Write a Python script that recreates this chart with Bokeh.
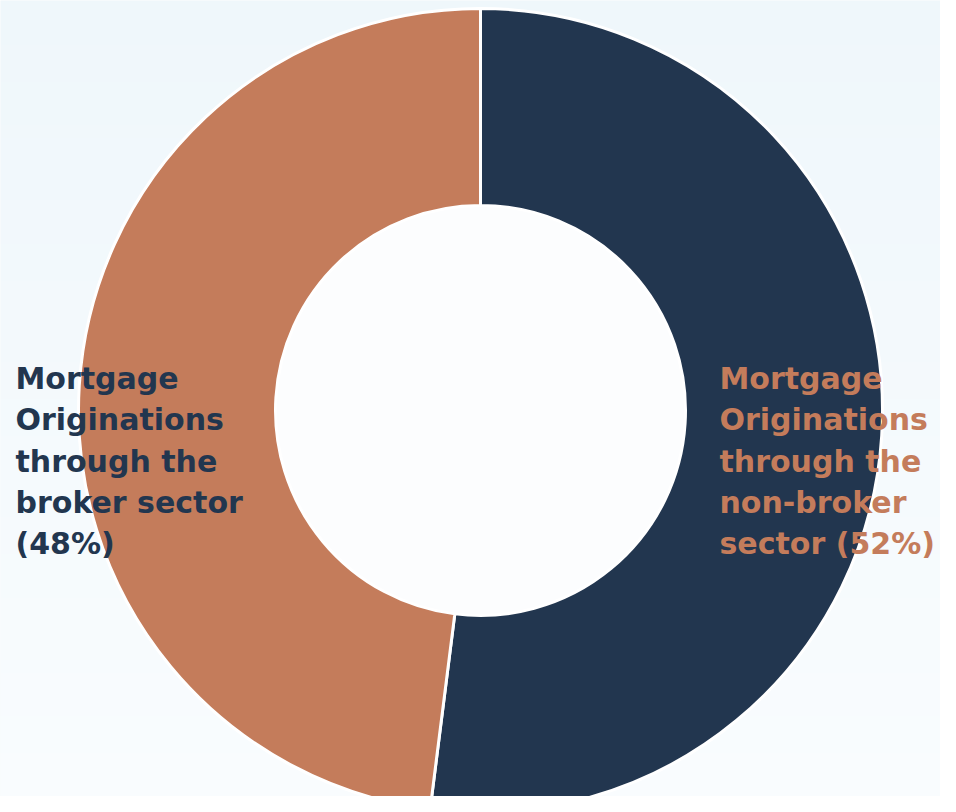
import numpy as np
from bokeh.plotting import figure
from bokeh.models import ColumnDataSource
from bokeh.embed import file_html
from bokeh.resources import INLINE
from bokeh.core.properties import value

# ---- data ----
categories = ["non-broker sector", "broker sector"]
shares = [52, 48]
colors = ["#22364f", "#c47c5b"]
label_lines = [
    ["Mortgage", "Originations", "through the", "non-broker", "sector (52%)"],
    ["Mortgage", "Originations", "through the", "broker sector", "(48%)"],
]
label_colors = ["#c47c5b", "#22364f"]

W, H = 940, 796
p = figure(width=W, height=H, x_range=(0, W), y_range=(0, H),
           output_backend="svg", toolbar_location=None, min_border=0)
p.axis.visible = False
p.grid.visible = False
p.outline_line_color = None
p.background_fill_color = "#f4f9fc"
p.border_fill_color = "#f4f9fc"

# soft vertical background gradient (style only)
n = 128
top = np.array([239, 247, 251], dtype=float)
bot = np.array([249, 252, 254], dtype=float)
img = np.zeros((n, 1), dtype=np.uint32)
view = img.view(dtype=np.uint8).reshape((n, 1, 4))
for i in range(n):
    t = i / (n - 1)  # i=0 is bottom row
    c = bot * (1 - t) + top * t
    view[i, 0, 0:3] = np.round(c).astype(np.uint8)
    view[i, 0, 3] = 255
p.image_rgba(image=[img], x=0, y=0, dw=W, dh=H)

# ---- donut ----
cx, cy = 480, 386
r_out, r_in = 402, 205
total = sum(shares)
ends = np.cumsum(shares) / total * 2 * np.pi
starts = np.concatenate([[0], ends[:-1]])
start_angle = np.pi / 2 - starts
end_angle = np.pi / 2 - ends
src = ColumnDataSource(dict(start=start_angle, end=end_angle, color=colors,
                            cat=categories))
p.circle(x=[cx], y=[cy], radius=r_in, fill_color="#fcfdfe", line_color=None)
p.annular_wedge(x=cx, y=cy, inner_radius=r_in, outer_radius=r_out,
                start_angle="start", end_angle="end", direction="clock",
                fill_color="color", line_color="white", line_width=3,
                source=src)

# ---- labels ----
label_x = [719, 15]
first_baseline = 418
line_step = 41.3
for lines, col, lx in zip(label_lines, label_colors, label_x):
    ys = [first_baseline - i * line_step for i in range(len(lines))]
    p.text(x=[lx] * len(lines), y=ys, text=lines,
           text_font=value("DejaVu Sans"), text_font_style="bold",
           text_font_size="30px", text_color=col,
           text_baseline="alphabetic", text_align="left")

open("out.html", "w").write(file_html(p, INLINE))
